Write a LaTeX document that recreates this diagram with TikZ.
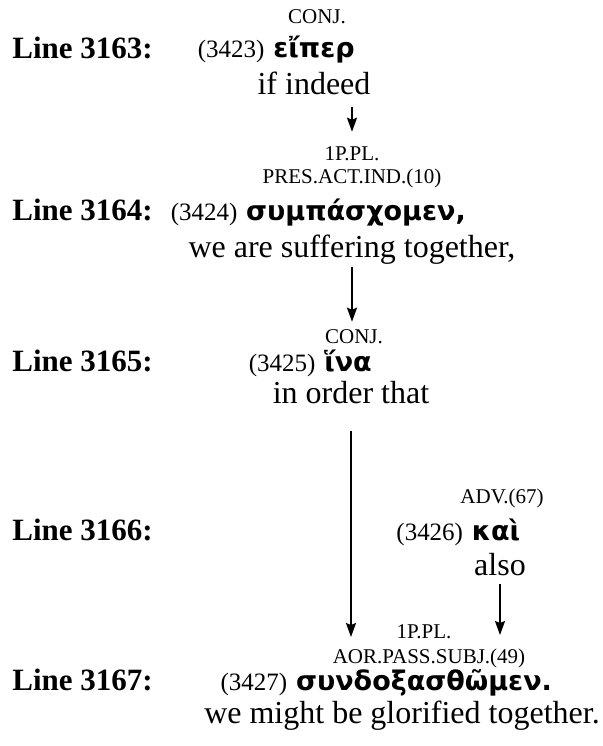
\documentclass[tikz,border=0pt]{standalone}
\usepackage{fontspec}
\setmainfont{Liberation Serif}
\newfontfamily\greekfont{DejaVu Sans}
\usetikzlibrary{positioning,arrows.meta}

\begin{document}
\begin{tikzpicture}[x=0.5pt,y=-0.5pt,
	linelbl/.style={anchor=base west,font=\bfseries\fontsize{15.5}{18}\selectfont},
	morph/.style={font=\fontsize{10.5}{12}\selectfont},
	greek/.style={font=\greekfont\bfseries\fontsize{13.5}{16}\selectfont},
	refno/.style={font=\fontsize{12.5}{15}\selectfont},
	gloss/.style={font=\fontsize{16}{19}\selectfont}]
	\useasboundingbox (0,0) rectangle (602,746);
	\begin{scope}[every node/.style={inner sep=0pt,anchor=base}]
		% line 3163
		\node[morph] (M1) at (317,23) {CONJ.};
		\node[linelbl] (L1) at (12,58) {Line 3163:};
		\node[greek] (G1) at (314,57) {εἴπερ};
		\node[refno,base left=4pt of G1] (N1) {(3423)};
		\node[gloss] (E1) at (314,94) {if indeed};
		% line 3164
		\node[morph] (M2a) at (352,160) {1P.PL.};
		\node[morph] (M2b) at (352,183) {PRES.ACT.IND.(10)};
		\node[linelbl] (L2) at (12,220) {Line 3164:};
		\node[greek] (G2) at (356,220) {συμπάσχομεν,};
		\node[refno,base left=4pt of G2] (N2) {(3424)};
		\node[gloss] (E2) at (352,257) {we are suffering together,};
		% line 3165
		\node[morph] (M3) at (354,343) {CONJ.};
		\node[linelbl] (L3) at (12,371) {Line 3165:};
		\node[greek] (G3) at (348,371) {ἵνα};
		\node[refno,base left=4pt of G3] (N3) {(3425)};
		\node[gloss] (E3) at (351,403) {in order that};
		% line 3166
		\node[morph] (M4) at (502,503) {ADV.(67)};
		\node[linelbl] (L4) at (12,540) {Line 3166:};
		\node[greek] (G4) at (496,540) {καὶ};
		\node[refno,base left=4pt of G4] (N4) {(3426)};
		\node[gloss] (E4) at (500,575) {also};
		% line 3167
		\node[morph] (M5a) at (424,638) {1P.PL.};
		\node[morph] (M5b) at (429,663) {AOR.PASS.SUBJ.(49)};
		\node[linelbl] (L5) at (12,690) {Line 3167:};
		\node[greek] (G5) at (424,690) {συνδοξασθῶμεν.};
		\node[refno,base left=4pt of G5] (N5) {(3427)};
		\node[gloss] (E5) at (402,723) {we might be glorified together.};
	\end{scope}
	\begin{scope}[>={Stealth[length=7pt,width=5pt,inset=1pt]},
	              every edge/.style={draw=black,line width=1pt}]
		\path [->] (E1.south -| M2a.north) edge[shorten <=6pt,shorten >=7pt] (M2a.north);
		\path [->] (E2.south) edge[shorten <=1.5pt,shorten >=3.5pt] (E2.south |- M3.north);
		\path [->] (E3.south) edge[shorten <=13.5pt,shorten >=0.5pt] (E3.south |- M5a.base);
		\path [->] (E4.south) edge[shorten <=4pt,shorten >=1.5pt] (E4.south |- M5a.base);
	\end{scope}
\end{tikzpicture}
\end{document}
